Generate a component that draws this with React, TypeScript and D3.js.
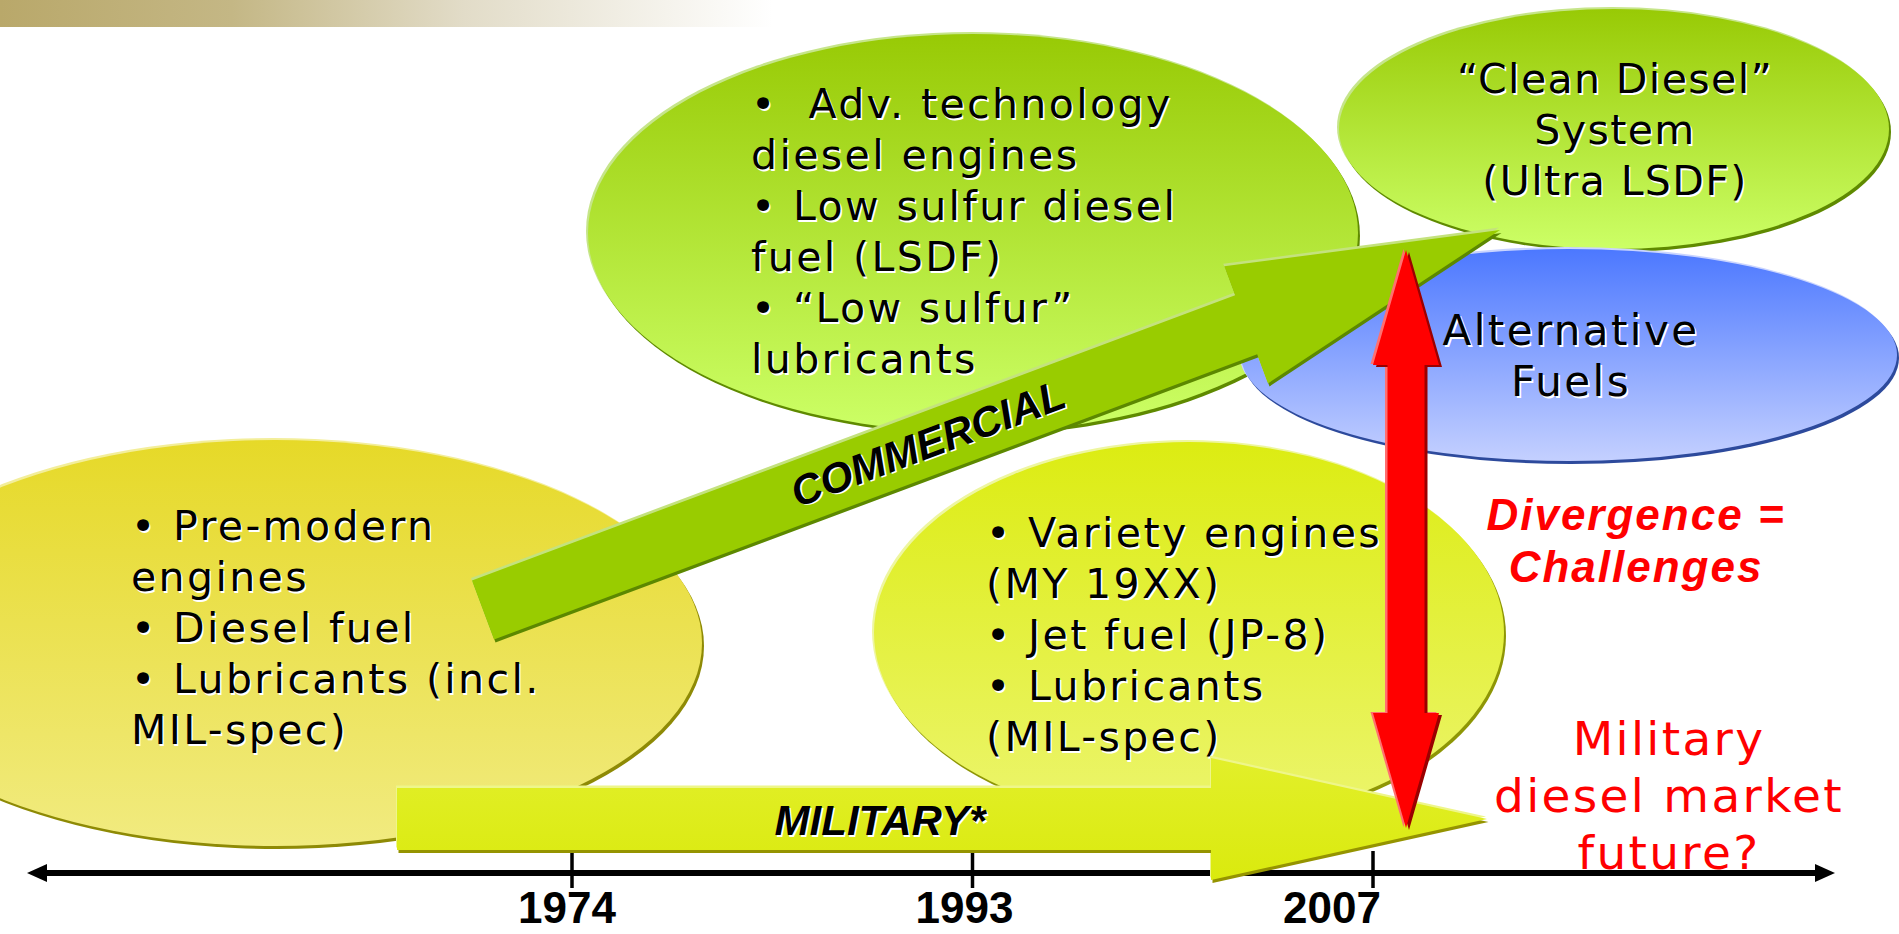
import * as d3 from "d3";

// timeline
const years = ["1974", "1993", "2007"];
const yearNudge = [-5, -8, -41];

// bubble texts
const legacyItems = ["• Pre-modern", "engines", "• Diesel fuel", "• Lubricants (incl.", "MIL-spec)"];
const commercialItems = ["•  Adv. technology", "diesel engines", "• Low sulfur diesel", "fuel (LSDF)", "• “Low sulfur”", "lubricants"];
const cleanDieselLines = ["“Clean Diesel”", "System", "(Ultra LSDF)"];
const altFuelLines = ["Alternative", "Fuels"];
const militaryItems = ["• Variety engines", "(MY 19XX)", "• Jet fuel (JP-8)", "• Lubricants", "(MIL-spec)"];

// callouts
const arrowLabels = ["COMMERCIAL", "MILITARY*"];
const divergenceLines = ["Divergence =", "Challenges"];
const futureLines = ["Military", "diesel market", "future?"];

const W = 1899;
const H = 934;
const BODY_FONT = "'DejaVu Sans', Verdana, sans-serif";
const ARIAL = "'Liberation Sans', Arial, sans-serif";

const x = d3.scalePoint<string>().domain(years).range([572, 1373]);
const axisY = 873;

function arrowPath(x0: number, y0: number, x1: number, y1: number, sh: number, hh: number, hl: number) {
  const len = Math.hypot(x1 - x0, y1 - y0);
  const a = Math.atan2(y1 - y0, x1 - x0);
  const c = Math.cos(a), s = Math.sin(a);
  const pts: [number, number][] = [
    [0, -sh], [len - hl, -sh], [len - hl, -hh], [len, 0],
    [len - hl, hh], [len - hl, sh], [0, sh],
  ];
  return d3.line()(pts.map(([u, v]) => [x0 + u * c - v * s, y0 + u * s + v * c]) as [number, number][]) + "Z";
}

function doubleArrowPath(cx: number, top: number, bottom: number, sh: number, hh: number, hl: number) {
  const pts: [number, number][] = [
    [cx, top], [cx + hh, top + hl], [cx + sh, top + hl], [cx + sh, bottom - hl],
    [cx + hh, bottom - hl], [cx, bottom], [cx - hh, bottom - hl], [cx - sh, bottom - hl],
    [cx - sh, top + hl], [cx - hh, top + hl],
  ];
  return d3.line()(pts) + "Z";
}

type Bubble = {
  id: string; cx: number; cy: number; rx: number; ry: number;
  top: string; bottom: string; dark: string; light: string;
};

const bubbles: Bubble[] = [
  { id: "legacy", cx: 275, cy: 643, rx: 427, ry: 203, top: "#E6D928", bottom: "#F1EB80", dark: "#8E8A05", light: "#F3EE9A" },
  { id: "comm", cx: 973, cy: 233, rx: 385, ry: 199, top: "#98CA05", bottom: "#CCFF66", dark: "#5F8A00", light: "#C6E58A" },
  { id: "clean", cx: 1614, cy: 129, rx: 275, ry: 120, top: "#98CA05", bottom: "#CCFF66", dark: "#5F8A00", light: "#C6E58A" },
  { id: "alt", cx: 1569, cy: 355, rx: 328, ry: 106, top: "#4C78FF", bottom: "#C4D0FF", dark: "#2D4A9C", light: "#C9D4FF" },
  { id: "mil", cx: 1189, cy: 633, rx: 315, ry: 191, top: "#DCEC12", bottom: "#ECF56E", dark: "#8E9605", light: "#EEF6A0" },
];

function ShadowLines({ lines, x0, y0, pitch, anchor = "start", size = 41, spacing = 2.4, family = BODY_FONT }: {
  lines: string[]; x0: number; y0: number; pitch: number; anchor?: string; size?: number; spacing?: number; family?: string;
}) {
  const render = (fill: string, dx: number, dy: number) => (
    <text x={x0 + dx} y={y0 + dy} fill={fill} fontFamily={family} fontSize={size}
      letterSpacing={spacing} textAnchor={anchor}>
      {lines.map((l, i) => (
        <tspan key={i} x={x0 + dx} y={y0 + dy + i * pitch} style={{ whiteSpace: "pre" }}>{l}</tspan>
      ))}
    </text>
  );
  return (
    <g>
      {render("#ffffff", 1.6, 1.6)}
      {render("#000000", 0, 0)}
    </g>
  );
}

export default function App() {
  const commPath = arrowPath(483, 610, 1500, 230, 31.5, 62.5, 271);
  const milPath = arrowPath(397, 819, 1487, 819, 31, 61, 276);
  const redPath = doubleArrowPath(1406, 250, 828, 18.5, 33, 115);
  const ang = (Math.atan2(230 - 610, 1500 - 483) * 180) / Math.PI;

  const axisPath = d3.path();
  axisPath.moveTo(44, axisY);
  axisPath.lineTo(1818, axisY);

  return (
    <svg width={W} height={H} style={{ position: "absolute", left: 0, top: 0, display: "block", background: "#fff" }}>
      <defs>
        <linearGradient id="band" x1="0" x2="1" y1="0" y2="0">
          <stop offset="0" stopColor="#B9A86A" />
          <stop offset="0.3" stopColor="#C4B785" />
          <stop offset="0.6" stopColor="#E2DCC8" />
          <stop offset="1" stopColor="#FFFFFF" />
        </linearGradient>
        {bubbles.map((b) => (
          <linearGradient key={b.id} id={`g-${b.id}`} x1="0" x2="0" y1="0" y2="1">
            <stop offset="0" stopColor={b.top} />
            <stop offset="1" stopColor={b.bottom} />
          </linearGradient>
        ))}
        <linearGradient id="g-milarrow" x1="0" x2="0" y1="0" y2="1">
          <stop offset="0" stopColor="#E2EF2A" />
          <stop offset="1" stopColor="#DAEA0E" />
        </linearGradient>
      </defs>

      {/* header band */}
      <rect x={0} y={0} width={773} height={27} fill="url(#band)" />

      {/* bubbles */}
      {bubbles.map((b) => (
        <g key={b.id}>
          <ellipse cx={b.cx - 2} cy={b.cy - 2} rx={b.rx} ry={b.ry} fill={b.light} />
          <ellipse cx={b.cx + 2} cy={b.cy + 3} rx={b.rx} ry={b.ry} fill={b.dark} />
          <ellipse cx={b.cx} cy={b.cy} rx={b.rx} ry={b.ry} fill={`url(#g-${b.id})`} />
        </g>
      ))}

      {/* bubble texts */}
      <ShadowLines lines={legacyItems} x0={131} y0={540} pitch={51} />
      <ShadowLines lines={commercialItems} x0={751} y0={118} pitch={51} />
      <ShadowLines lines={cleanDieselLines} x0={1615} y0={93} pitch={51} anchor="middle" spacing={1.4} />
      <ShadowLines lines={altFuelLines} x0={1571} y0={345} pitch={51} anchor="middle" size={42} />
      <ShadowLines lines={militaryItems} x0={986} y0={547} pitch={51} />

      {/* timeline axis */}
      <path d={axisPath.toString()} stroke="#000" strokeWidth={6} fill="none" />
      <path d={d3.line()([[27, axisY], [47, axisY - 9], [47, axisY + 9]]) + "Z"} fill="#000" />
      <path d={d3.line()([[1835, axisY], [1815, axisY - 9], [1815, axisY + 9]]) + "Z"} fill="#000" />
      {years.map((yr, i) => (
        <g key={yr}>
          <line x1={x(yr)} x2={x(yr)} y1={851} y2={888} stroke="#000" strokeWidth={3.5} />
          <text x={(x(yr) ?? 0) + yearNudge[i]} y={923} textAnchor="middle" fontFamily={ARIAL}
            fontWeight="bold" fontSize={44} fill="#000">{yr}</text>
        </g>
      ))}

      {/* commercial arrow */}
      <path d={commPath} fill="#C4E27E" transform="translate(-1,-2.5)" />
      <path d={commPath} fill="#5C8800" transform="translate(1.5,3)" />
      <path d={commPath} fill="#99CC00" />
      <g transform={`translate(933,457) rotate(${ang})`}>
        <text x={1.6} y={1.6} textAnchor="middle" fontFamily={ARIAL} fontWeight="bold" fontStyle="italic"
          fontSize={42} fill="#fff">{arrowLabels[0]}</text>
        <text x={0} y={0} textAnchor="middle" fontFamily={ARIAL} fontWeight="bold" fontStyle="italic"
          fontSize={42} fill="#000">{arrowLabels[0]}</text>
      </g>

      {/* military arrow */}
      <path d={milPath} fill="#EEF68A" transform="translate(-1,-2.5)" />
      <path d={milPath} fill="#959400" transform="translate(1.5,3)" />
      <path d={milPath} fill="url(#g-milarrow)" />
      <text x={880} y={835} textAnchor="middle" fontFamily={ARIAL} fontWeight="bold" fontStyle="italic"
        fontSize={42} fill="#fff" dx={1.6} dy={1.6}>{arrowLabels[1]}</text>
      <text x={880} y={835} textAnchor="middle" fontFamily={ARIAL} fontWeight="bold" fontStyle="italic"
        fontSize={42} fill="#000">{arrowLabels[1]}</text>

      {/* divergence arrow */}
      <path d={redPath} fill="#FF7070" transform="translate(-2.5,-1)" />
      <path d={redPath} fill="#9A0000" transform="translate(3,2)" />
      <path d={redPath} fill="#FF0000" />

      {/* red callouts */}
      <text fill="#FF0000" fontFamily={ARIAL} fontWeight="bold" fontStyle="italic" fontSize={44}
        letterSpacing={2} textAnchor="middle">
        {divergenceLines.map((l, i) => (
          <tspan key={l} x={1636} y={530 + i * 52}>{l}</tspan>
        ))}
      </text>
      <text fill="#FF0000" fontFamily={BODY_FONT} fontSize={47} letterSpacing={2.3} textAnchor="middle">
        {futureLines.map((l, i) => (
          <tspan key={l} x={1669} y={755 + i * 57}>{l}</tspan>
        ))}
      </text>
    </svg>
  );
}
